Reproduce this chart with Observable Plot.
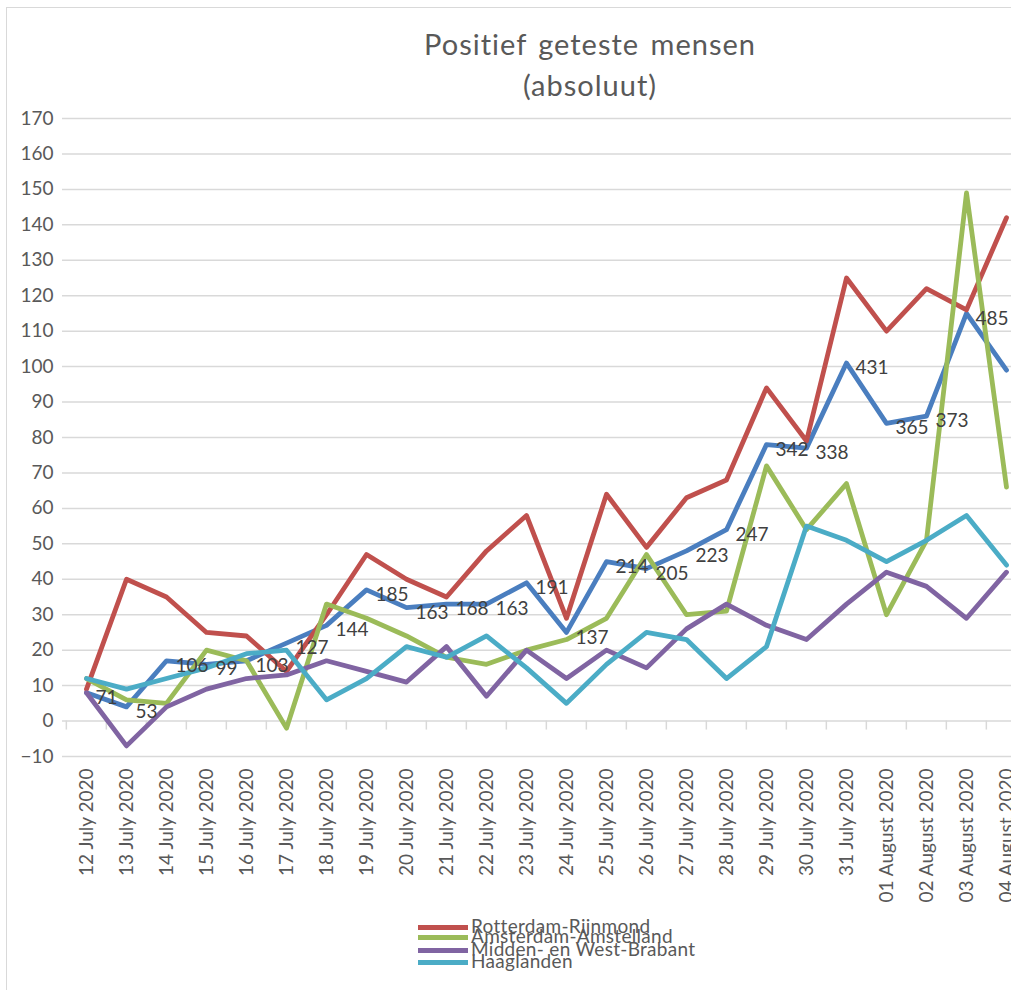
<!DOCTYPE html>
<html>
<head>
<meta charset="utf-8">
<script src="https://cdn.jsdelivr.net/npm/d3@7"></script>
<script src="https://cdn.jsdelivr.net/npm/@observablehq/plot@0.6"></script>
<style>
  html, body { margin: 0; padding: 0; background: #fff; overflow: hidden; }
  #page { position: relative; width: 1011px; height: 990px; overflow: hidden; font-family: Lato, "Open Sans", sans-serif; }
  #frame { position: absolute; left: 6px; top: 7px; width: 1100px; height: 1100px; border-left: 1.5px solid #d9d9d9; border-top: 1.5px solid #d9d9d9; }
  #title { position: absolute; top: 23px; left: 340px; width: 500px; text-align: center; color: #595959; font-size: 29px; line-height: 41px; letter-spacing: 1px; word-spacing: 3px; }
  #chart { position: absolute; top: 100px; left: 0; width: 1040px; }
  #chart svg { max-width: none !important; }
  #legend { position: absolute; left: 418px; top: 921px; color: #595959; font-size: 19px; letter-spacing: 0.3px; }
  .item { position: absolute; left: 0; height: 12px; white-space: nowrap; }
  .sw { position: absolute; left: 0; top: 4px; width: 50px; height: 5px; }
  .lbl { position: absolute; left: 53px; top: -5px; line-height: 20px; }
</style>
</head>
<body>
<div id="page">
  <div id="frame"></div>
  <div id="title">Positief geteste mensen<br>(absoluut)</div>
  <div id="chart"></div>
  <div id="legend"></div>
</div>
<script>
const dates = ["12 July 2020","13 July 2020","14 July 2020","15 July 2020","16 July 2020","17 July 2020","18 July 2020","19 July 2020","20 July 2020","21 July 2020","22 July 2020","23 July 2020","24 July 2020","25 July 2020","26 July 2020","27 July 2020","28 July 2020","29 July 2020","30 July 2020","31 July 2020","01 August 2020","02 August 2020","03 August 2020","04 August 2020"];

const rotterdam = [9,40,35,25,24,14,30,47,40,35,48,58,29,64,49,63,68,94,79,125,110,122,116,142];
const amsterdam = [12,6,5,20,17,-2,33,29,24,18,16,20,23,29,47,30,31,72,54,67,30,51,149,66];
const brabant   = [8,-7,4,9,12,13,17,14,11,21,7,20,12,20,15,26,33,27,23,33,42,38,29,42];
const haaglanden= [12,9,12,15,19,20,6,12,21,18,24,15,5,16,25,23,12,21,55,51,45,51,58,44];
const unnamedSeries = [8,4,17,16,17,22,27,37,32,33,33,39,25,45,43,48,54,78,77,101,84,86,115,99];
const unnamedLabels = [71,53,106,99,103,127,144,185,163,168,163,191,137,214,205,223,247,342,338,431,365,373,485,null];

const seriesNames = ["Rotterdam-Rijnmond","Amsterdam-Amstelland","Midden- en West-Brabant","Haaglanden"];
const seriesColors = ["#C0504D","#9BBB59","#8064A2","#4BACC6"];
const seriesValues = [rotterdam, amsterdam, brabant, haaglanden];
const unnamedColor = "#4A7EBF";

const yTicks = d3.range(-10, 171, 10);

const toRows = (vals) => dates.map((d, i) => ({date: d, value: vals[i]}));
const blueRows = dates.map((d, i) => ({date: d, value: unnamedSeries[i], label: unnamedLabels[i]}));

const marks = [
  Plot.ruleY(yTicks, {stroke: "#d9d9d9", strokeWidth: 1.5}),
  Plot.ruleX(dates, {x: d => d, y1: 0, y2: 0, dx: -20.15, insetBottom: -9, stroke: "#d9d9d9", strokeWidth: 1.5}),
  Plot.axisY(yTicks, {tickSize: 0, tickPadding: 9, fontSize: 19, fill: "#595959", label: null}),
  Plot.axisX({anchor: "bottom", tickSize: 0, tickPadding: 12, tickRotate: -90, fontSize: 19, fill: "#595959", label: null}),
  Plot.line(toRows(unnamedSeries), {x: "date", y: "value", stroke: unnamedColor, strokeWidth: 4.8, strokeLinejoin: "round", strokeLinecap: "round"}),
  ...seriesValues.map((vals, k) => Plot.line(toRows(vals), {x: "date", y: "value", stroke: seriesColors[k], strokeWidth: 4.8, strokeLinejoin: "round", strokeLinecap: "round"})),
  Plot.text(blueRows.filter(d => d.label != null), {x: "date", y: "value", text: d => String(d.label), dx: 9, dy: 5, textAnchor: "start", fill: "#404040", fontSize: 19})
];

const chart = Plot.plot({
  width: 1040,
  height: 800,
  marginTop: 18,
  marginBottom: 144,
  marginLeft: 62,
  marginRight: 10.8,
  style: {fontFamily: "Lato, 'Open Sans', sans-serif", background: "transparent", overflow: "visible", maxWidth: "none"},
  x: {type: "point", domain: dates, padding: 0.5},
  y: {domain: [-10, 170]},
  marks
});
document.getElementById("chart").appendChild(chart);

const legend = document.getElementById("legend");
const rowTops = [0, 10, 23, 35];
seriesNames.forEach((name, k) => {
  const item = document.createElement("div");
  item.className = "item";
  item.style.top = rowTops[k] + "px";
  const sw = document.createElement("div");
  sw.className = "sw";
  sw.style.background = seriesColors[k];
  const lbl = document.createElement("div");
  lbl.className = "lbl";
  lbl.textContent = name;
  item.appendChild(sw);
  item.appendChild(lbl);
  legend.appendChild(item);
});
</script>
</body>
</html>
